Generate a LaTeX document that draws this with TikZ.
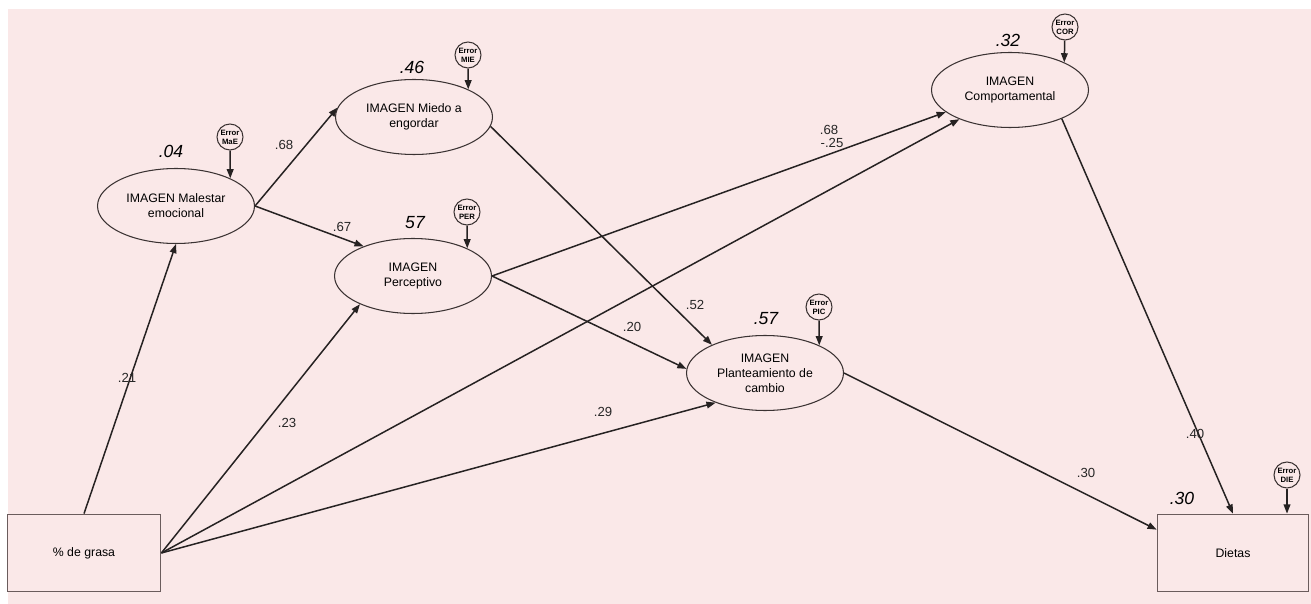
\documentclass[tikz,border=0pt]{standalone}
\usepackage{fontspec}
\setmainfont{Liberation Sans}
\usetikzlibrary{shapes.geometric,arrows.meta}
\definecolor{bg}{HTML}{FAE8E8}
\definecolor{edge}{HTML}{3A3232}
\definecolor{boxc}{HTML}{6A5C5C}
\definecolor{arrc}{HTML}{262222}
\begin{document}
\begin{tikzpicture}[x=0.02cm,y=-0.02cm,
  latent/.style={ellipse, draw=edge, line width=0.6pt, minimum width=3.14cm, minimum height=1.5cm, inner sep=0pt, align=center, font=\fontsize{7}{8.6}\selectfont},
  obs/.style={rectangle, draw=boxc, line width=1pt, minimum height=1.54cm, inner sep=0pt, font=\fontsize{7}{8.6}\selectfont},
  err/.style={circle, draw=edge, line width=0.6pt, minimum size=0.52cm, inner sep=0pt, align=center, font=\bfseries\fontsize{4.4}{5.2}\selectfont},
  pth/.style={draw=arrc, line width=0.85pt, -{Triangle[length=5.2pt,width=3.8pt]}},
  coef/.style={font=\fontsize{7.5}{9}\selectfont, text=black!85},
  rsq/.style={font=\itshape\fontsize{10}{12}\selectfont}
]
\useasboundingbox (0,0) rectangle (1311,604);
\fill[bg] (8,9) rectangle (1311,604);

% observed
\node[obs, minimum width=3.06cm] (grasa) at (84,553) {\% de grasa};
\node[obs, minimum width=3.02cm] (Dietas) at (1233,553) {Dietas};

% latent
\node[latent] (MaE) at (176,206) {IMAGEN Malestar\\emocional};
\node[latent] (MIE) at (414,117) {IMAGEN Miedo a\\engordar};
\node[latent] (PER) at (413,276) {IMAGEN\\Perceptivo};
\node[latent] (PIC) at (765,373) {IMAGEN\\Planteamiento de\\cambio};
\node[latent] (COR) at (1010,90) {IMAGEN\\Comportamental};

% errors
\node[err] (eMaE) at (230,137) {Error\\MaE};
\node[err] (eMIE) at (468,55) {Error\\MIE};
\node[err] (ePER) at (467,212) {Error\\PER};
\node[err] (ePIC) at (819,307) {Error\\PIC};
\node[err] (eCOR) at (1065,27) {Error\\COR};
\node[err] (eDIE) at (1287,475) {Error\\DIE};

% error arrows
\draw[pth] (eMaE) -- (MaE.27);
\draw[pth] (eMIE) -- (MIE.27);
\draw[pth] (ePER) -- (PER.27);
\draw[pth] (ePIC) -- (PIC.27);
\draw[pth] (eCOR) -- (COR.27);
\draw[pth] (eDIE) -- (eDIE |- Dietas.north);

% structural paths
\draw[pth] (grasa.north) -- (MaE.south);
\draw[pth] (grasa.east) -- (PER.208);
\draw[pth] (grasa.east) -- (COR.210);
\draw[pth] (grasa.east) -- (PIC.211);
\draw[pth] (MaE.east) -- (MIE.173);
\draw[pth] (MaE.east) -- (PER.149);
\draw[pth] (MIE.-7) -- (PIC.152);
\draw[pth] (PER.east) -- (COR.199);
\draw[pth] (PER.east) -- (PIC.177);
\draw[pth] (PIC.east) -- (Dietas.163);
\draw[pth] (COR.-29) -- (Dietas.north);

% R squared
\node[rsq] (r1) at (171,151) {.04};
\node[rsq] (r2) at (412,67) {.46};
\node[rsq] (r3) at (415,223) {57};
\node[rsq] (r4) at (766,319) {.57};
\node[rsq] (r5) at (1008,40) {.32};
\node[rsq] (r6) at (1182,498) {.30};

% coefficients
\node[coef] (c1) at (127,378) {.21};
\node[coef] (c2) at (287,423) {.23};
\node[coef] (c3) at (284,145) {.68};
\node[coef] (c4) at (342,227) {.67};
\node[coef] (c5) at (695,305) {.52};
\node[coef] (c6) at (632,327) {.20};
\node[coef] (c7) at (829,130) {.68};
\node[coef] (c8) at (832,143) {-.25};
\node[coef] (c9) at (603,412) {.29};
\node[coef] (c10) at (1086,473) {.30};
\node[coef] (c11) at (1195,434) {.40};
\end{tikzpicture}
\end{document}
